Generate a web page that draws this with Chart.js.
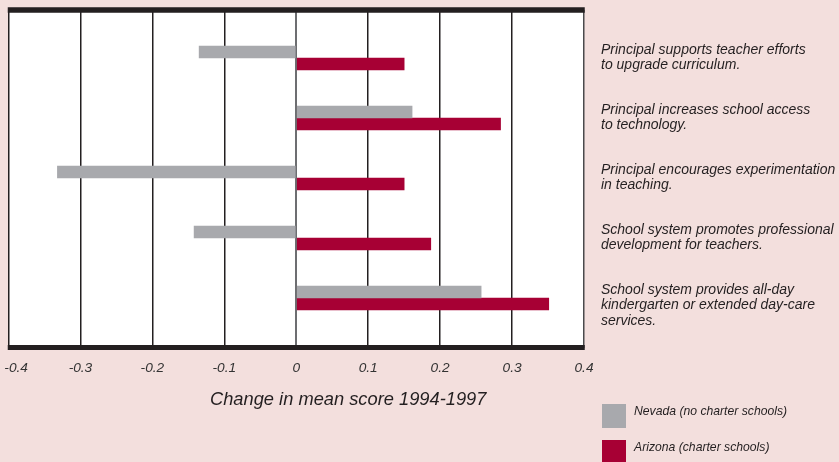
<!DOCTYPE html>
<html>
<head>
<meta charset="utf-8">
<script src="https://cdn.jsdelivr.net/npm/chart.js@4/dist/chart.umd.min.js"></script>
<style>
  html, body { margin: 0; padding: 0; background: #f3dfdd; }
  #wrap { position: relative; width: 839px; height: 462px; overflow: hidden; }
  #c { position: absolute; left: 0; top: 0; }
  #xtitle { position: absolute; left: 210px; top: 389px; font: italic 18.3px "Liberation Sans", Arial, sans-serif; line-height: 20px; color: #231f20; white-space: nowrap; }
  .lg { position: absolute; left: 602px; height: 24px; white-space: nowrap; }
  .lg .sw { position: absolute; left: 0; top: 0; width: 24px; height: 24px; }
  .lg .tx { position: absolute; left: 32px; top: 0; line-height: 24px; font: italic 12.2px "Liberation Sans", Arial, sans-serif; color: #231f20; }
</style>
</head>
<body>
<div id="wrap">
  <canvas id="c" width="839" height="462"></canvas>
  <div id="xtitle"></div>
  <div id="legend"></div>
</div>
<script>
const categories = [
  ['Principal supports teacher efforts', 'to upgrade curriculum.'],
  ['Principal increases school access', 'to technology.'],
  ['Principal encourages experimentation', 'in teaching.'],
  ['School system promotes professional', 'development for teachers.'],
  ['School system provides all-day', 'kindergarten or extended day-care', 'services.']
];
const seriesNames = ['Nevada (no charter schools)', 'Arizona (charter schools)'];
const nevada = [-0.135, 0.161, -0.332, -0.142, 0.257];
const arizona = [0.150, 0.284, 0.150, 0.187, 0.351];
const xTickValues = [-0.4, -0.3, -0.2, -0.1, 0, 0.1, 0.2, 0.3, 0.4];
const xTickLabels = ['-0.4', '-0.3', '-0.2', '-0.1', '0', '0.1', '0.2', '0.3', '0.4'];
const axisTitle = 'Change in mean score 1994-1997';

const GRAY = '#a8a9ad';
const RED = '#a70034';
const INK = '#231f20';

document.getElementById('xtitle').textContent = axisTitle;

const frame = {
  id: 'frame',
  beforeDraw(chart) {
    const { ctx, chartArea: a } = chart;
    ctx.save();
    ctx.fillStyle = '#ffffff';
    ctx.fillRect(a.left, a.top, a.right - a.left, a.bottom - a.top);
    ctx.restore();
  },
  afterDraw(chart) {
    const { ctx, chartArea: a } = chart;
    ctx.save();
    ctx.fillStyle = INK;
    ctx.fillRect(a.left - 0.75, a.top - 2.75, a.right - a.left + 1.5, 5.5);
    ctx.fillRect(a.left - 0.75, a.bottom - 2.5, a.right - a.left + 1.5, 5);
    ctx.restore();
  }
};

const chart = new Chart(document.getElementById('c'), {
  type: 'bar',
  data: {
    datasets: [
      { label: seriesNames[0], data: nevada.map((v, i) => ({ x: v, y: i })), backgroundColor: GRAY, borderWidth: 0 },
      { label: seriesNames[1], data: arizona.map((v, i) => ({ x: v, y: i })), backgroundColor: RED, borderWidth: 0 }
    ]
  },
  options: {
    indexAxis: 'y',
    responsive: false,
    animation: false,
    devicePixelRatio: 1,
    barThickness: 12,
    grouped: true,
    layout: { padding: { left: 8.5, top: 10, right: 0, bottom: 0 } },
    plugins: { legend: { display: false }, tooltip: { enabled: false } },
    scales: {
      x: {
        type: 'linear',
        position: 'bottom',
        min: -0.4,
        max: 0.4,
        offset: false,
        afterBuildTicks(scale) { scale.ticks = xTickValues.map(v => ({ value: v })); },
        afterFit(scale) { scale.height = 114.5; scale.paddingLeft = 0; scale.paddingRight = 0; },
        border: { display: false },
        grid: {
          drawTicks: false,
          offset: false,
          color: ctx => (ctx.tick && ctx.tick.value === 0) ? '#6d6e71' : (ctx.tick && ctx.tick.value === 0.4 ? '#4a4a4c' : INK),
          lineWidth: ctx => (ctx.tick && ctx.tick.value === 0) ? 2 : 1.5
        },
        ticks: {
          autoSkip: false,
          maxRotation: 0,
          padding: 12,
          color: '#333333',
          font: { family: '"Liberation Sans", Arial, sans-serif', style: 'italic', size: 13.7 },
          callback(value, index) {
            const lbl = xTickLabels[index];
            return index === 0 ? '\u2007\u2007' + lbl : lbl;
          }
        }
      },
      y: {
        type: 'linear',
        position: 'right',
        reverse: true,
        offset: false,
        min: -0.8,
        max: 4.825,
        afterBuildTicks(scale) { scale.ticks = categories.map((_, i) => ({ value: i })); },
        afterFit(scale) { scale.width = 255; scale.paddingTop = 0; scale.paddingBottom = 0; },
        border: { display: false },
        grid: { display: false, drawTicks: false, offset: false },
        ticks: {
          autoSkip: false,
          padding: 17,
          color: INK,
          font: { family: '"Liberation Sans", Arial, sans-serif', style: 'italic', size: 14, lineHeight: 1.08 },
          callback(value, index) {
            const lines = categories[index];
            return lines.length % 2 === 1 ? [''].concat(lines) : lines;
          }
        }
      }
    }
  },
  plugins: [frame]
});

const legend = document.getElementById('legend');
chart.data.datasets.forEach((ds, i) => {
  const item = document.createElement('div');
  item.className = 'lg';
  item.style.top = (404 + i * 36) + 'px';
  const sw = document.createElement('div');
  sw.className = 'sw';
  sw.style.background = ds.backgroundColor;
  const tx = document.createElement('div');
  tx.className = 'tx';
  tx.textContent = ds.label;
  item.appendChild(sw);
  item.appendChild(tx);
  legend.appendChild(item);
});
</script>
</body>
</html>
